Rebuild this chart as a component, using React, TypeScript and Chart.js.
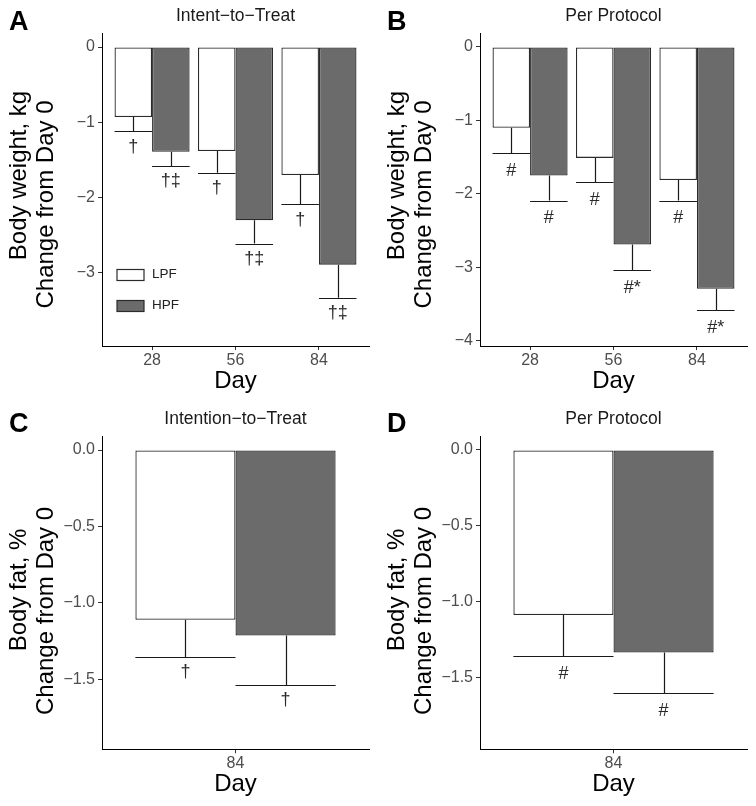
import React, { useEffect, useRef } from "react";
import { Chart, registerables } from "chart.js";

Chart.register(...registerables);

const FONT = '"Liberation Sans", Arial, Helvetica, sans-serif';
Chart.defaults.font.family = FONT;

// ---------- data ----------
const seriesNames = ["LPF", "HPF"];
const weightDays = ["28", "56", "84"];
const fatDays = ["84"];

// A: body weight, intent-to-treat
const lpfWeightITT = [-0.93, -1.38, -1.7];
const lpfWeightITTLow = [-1.12, -1.67, -2.09];
const hpfWeightITT = [-1.39, -2.3, -2.89];
const hpfWeightITTLow = [-1.58, -2.61, -3.33];
const lpfMarksWeightITT = ["†", "†", "†"];
const hpfMarksWeightITT = ["†‡", "†‡", "†‡"];

// B: body weight, per protocol
const lpfWeightPP = [-1.1, -1.51, -1.81];
const lpfWeightPPLow = [-1.45, -1.84, -2.09];
const hpfWeightPP = [-1.75, -2.69, -3.29];
const hpfWeightPPLow = [-2.09, -3.04, -3.58];
const lpfMarksWeightPP = ["#", "#", "#"];
const hpfMarksWeightPP = ["#", "#*", "#*"];

// C: body fat, intention-to-treat
const lpfFatITT = [-1.11];
const lpfFatITTLow = [-1.354];
const hpfFatITT = [-1.214];
const hpfFatITTLow = [-1.537];
const lpfMarksFatITT = ["†"];
const hpfMarksFatITT = ["†"];

// D: body fat, per protocol
const lpfFatPP = [-1.086];
const lpfFatPPLow = [-1.357];
const hpfFatPP = [-1.333];
const hpfFatPPLow = [-1.6];
const lpfMarksFatPP = ["#"];
const hpfMarksFatPP = ["#"];

// tick values
const weightTicksITT = [0, -1, -2, -3];
const weightTicksPP = [0, -1, -2, -3, -4];
const fatTicks = [0, -0.5, -1.0, -1.5];

// ---------- styles ----------
const LPF_FILL = "#ffffff";
const HPF_FILL = "#6b6b6b";
const BAR_EDGE = "#2b2b2b";
const TICK_TEXT = "#4d4d4d";
const INK = "#1a1a1a";

interface Panel {
  key: string;
  letter: string;
  title: string;
  yTitle: string[];
  yTitleShift: number[];
  cats: string[];
  lpf: number[];
  hpf: number[];
  lpfLow: number[];
  hpfLow: number[];
  lpfMarks: string[];
  hpfMarks: string[];
  yMin: number;
  yMax: number;
  yTicks: number[];
  decimals: number;
  catPct: number;
  legend: boolean;
  markGap: number;
  left: number;
  top: number;
  width: number;
  height: number;
  padTop: number;
  xAxisH: number;
  dayPad: number;
  letterGap: number;
}

const panels: Panel[] = [
  {
    key: "A", letter: "A", title: "Intent\u2212to\u2212Treat",
    yTitle: ["Body weight, kg", "Change from Day 0"], yTitleShift: [-14, 15],
    cats: weightDays, lpf: lpfWeightITT, hpf: hpfWeightITT, lpfLow: lpfWeightITTLow, hpfLow: hpfWeightITTLow,
    lpfMarks: lpfMarksWeightITT, hpfMarks: hpfMarksWeightITT,
    yMin: -3.97, yMax: 0.186, yTicks: weightTicksITT, decimals: 0, catPct: 0.9, legend: true, markGap: 15.5,
    left: 0, top: 0, width: 378, height: 395, padTop: 33, xAxisH: 49, dayPad: 1.4, letterGap: 3,
  },
  {
    key: "B", letter: "B", title: "Per Protocol",
    yTitle: ["Body weight, kg", "Change from Day 0"], yTitleShift: [-14, 15],
    cats: weightDays, lpf: lpfWeightPP, hpf: hpfWeightPP, lpfLow: lpfWeightPPLow, hpfLow: hpfWeightPPLow,
    lpfMarks: lpfMarksWeightPP, hpfMarks: hpfMarksWeightPP,
    yMin: -4.07, yMax: 0.19, yTicks: weightTicksPP, decimals: 0, catPct: 0.9, legend: false, markGap: 18,
    left: 378, top: 0, width: 378, height: 395, padTop: 33, xAxisH: 49, dayPad: 1.4, letterGap: 3,
  },
  {
    key: "C", letter: "C", title: "Intention\u2212to\u2212Treat",
    yTitle: ["Body fat, %", "Change from Day 0"], yTitleShift: [-2.7, 18.3],
    cats: fatDays, lpf: lpfFatITT, hpf: hpfFatITT, lpfLow: lpfFatITTLow, hpfLow: hpfFatITTLow,
    lpfMarks: lpfMarksFatITT, hpfMarks: hpfMarksFatITT,
    yMin: -1.958, yMax: 0.092, yTicks: fatTicks, decimals: 1, catPct: 0.75, legend: false, markGap: 15.5,
    left: 0, top: 395, width: 378, height: 411, padTop: 41, xAxisH: 56.7, dayPad: 9.4, letterGap: 4.3,
  },
  {
    key: "D", letter: "D", title: "Per Protocol",
    yTitle: ["Body fat, %", "Change from Day 0"], yTitleShift: [-2.7, 18.3],
    cats: fatDays, lpf: lpfFatPP, hpf: hpfFatPP, lpfLow: lpfFatPPLow, hpfLow: hpfFatPPLow,
    lpfMarks: lpfMarksFatPP, hpfMarks: hpfMarksFatPP,
    yMin: -1.97, yMax: 0.092, yTicks: fatTicks, decimals: 1, catPct: 0.75, legend: false, markGap: 18,
    left: 378, top: 395, width: 378, height: 411, padTop: 41, xAxisH: 56.7, dayPad: 9.4, letterGap: 4.3,
  },
];

function fmtTick(v: number, decimals: number): string {
  if (Math.abs(v) < 1e-9) return (0).toFixed(decimals);
  return (v < 0 ? "\u2212" : "") + Math.abs(v).toFixed(decimals);
}

function makeDecor(p: Panel) {
  return {
    id: "decor" + p.key,
    afterDatasetsDraw(chart: any) {
      const ctx: CanvasRenderingContext2D = chart.ctx;
      const ys = chart.scales.y;
      const lows = [p.lpfLow, p.hpfLow];
      const marks = [p.lpfMarks, p.hpfMarks];
      ctx.save();
      for (let d = 0; d < 2; d++) {
        const meta = chart.getDatasetMeta(d);
        meta.data.forEach((el: any, i: number) => {
          const { x, y, width } = el.getProps(["x", "y", "width"], true);
          const yl = ys.getPixelForValue(lows[d][i]);
          ctx.strokeStyle = INK;
          ctx.lineWidth = 1.2;
          ctx.beginPath();
          ctx.moveTo(Math.round(x) + 0.5, y);
          ctx.lineTo(Math.round(x) + 0.5, yl);
          ctx.moveTo(x - width / 2, Math.round(yl) + 0.5);
          ctx.lineTo(x + width / 2, Math.round(yl) + 0.5);
          ctx.stroke();
          ctx.fillStyle = "#2a2a2a";
          ctx.font = `18px ${FONT}`;
          ctx.textAlign = "center";
          ctx.textBaseline = "middle";
          ctx.fillText(marks[d][i], x, yl + p.markGap);
        });
      }
      ctx.restore();
    },
    afterDraw(chart: any) {
      const ctx: CanvasRenderingContext2D = chart.ctx;
      const ca = chart.chartArea;
      ctx.save();
      // panel letter
      ctx.fillStyle = "#000";
      ctx.font = `bold 27px ${FONT}`;
      ctx.textAlign = "left";
      ctx.textBaseline = "alphabetic";
      ctx.fillText(p.letter, 9, ca.top - p.letterGap);
      // panel title
      ctx.font = `17.5px ${FONT}`;
      ctx.fillStyle = INK;
      ctx.textAlign = "center";
      ctx.fillText(p.title, (ca.left + ca.right) / 2, ca.top - 12);
      // y-axis title (two lines)
      const cy = (ca.top + ca.bottom) / 2;
      const baseX = [25.5, 52.5];
      ctx.font = `24px ${FONT}`;
      ctx.fillStyle = "#000";
      p.yTitle.forEach((line, i) => {
        ctx.save();
        ctx.translate(baseX[i], cy + p.yTitleShift[i]);
        ctx.rotate(-Math.PI / 2);
        ctx.textAlign = "center";
        ctx.textBaseline = "alphabetic";
        ctx.fillText(line, 0, 0);
        ctx.restore();
      });
      // legend
      if (p.legend) {
        const rows = [ca.bottom - 72, ca.bottom - 40.5];
        chart.data.datasets.forEach((ds: any, i: number) => {
          const bx = ca.left + 15;
          const by = Math.round(rows[i] - 5.5) + 0.5;
          ctx.fillStyle = ds.backgroundColor;
          ctx.fillRect(bx, by, 27, 11);
          ctx.strokeStyle = BAR_EDGE;
          ctx.lineWidth = 1.2;
          ctx.strokeRect(bx, by, 27, 11);
          ctx.fillStyle = "#222";
          ctx.font = `13.5px ${FONT}`;
          ctx.textAlign = "left";
          ctx.textBaseline = "middle";
          ctx.fillText(ds.label, ca.left + 50, rows[i]);
        });
      }
      ctx.restore();
    },
  };
}

function ChartPanel({ p }: { p: Panel }) {
  const ref = useRef<HTMLCanvasElement>(null);
  useEffect(() => {
    const canvas = ref.current;
    if (!canvas) return;
    const tickGrid = {
      display: true,
      drawOnChartArea: false,
      drawTicks: true,
      tickLength: 4,
      color: "#333333",
      lineWidth: 1,
      offset: false,
    };
    const chart = new Chart(canvas, {
      type: "bar",
      data: {
        datasets: [
          {
            label: seriesNames[0],
            data: p.lpf.map((y, i) => ({ x: i + 1, y })),
            backgroundColor: LPF_FILL,
            borderColor: BAR_EDGE,
            borderWidth: 1.3,
            borderSkipped: false,
            categoryPercentage: p.catPct,
            barPercentage: 1,
          },
          {
            label: seriesNames[1],
            data: p.hpf.map((y, i) => ({ x: i + 1, y })),
            backgroundColor: HPF_FILL,
            borderColor: BAR_EDGE,
            borderWidth: 1.3,
            borderSkipped: false,
            categoryPercentage: p.catPct,
            barPercentage: 1,
          },
        ],
      } as any,
      options: {
        responsive: false,
        animation: false,
        devicePixelRatio: 1,
        events: [],
        layout: { padding: { top: p.padTop, right: 9, bottom: 0, left: 0 } },
        plugins: {
          legend: { display: false },
          tooltip: { enabled: false },
          title: { display: false },
        },
        scales: {
          x: {
            type: "linear",
            min: 0.4,
            max: p.cats.length + 0.6,
            offset: false,
            afterBuildTicks: (s: any) => {
              s.ticks = p.cats.map((_, i) => ({ value: i + 1 }));
            },
            afterFit: (s: any) => {
              s.height = p.xAxisH;
            },
            ticks: {
              callback: (v: any) => p.cats[Math.round(Number(v)) - 1] ?? "",
              color: TICK_TEXT,
              font: { size: 16 },
              padding: 1,
              maxRotation: 0,
              autoSkip: false,
            },
            grid: tickGrid,
            border: { display: true, color: "#000", width: 1 },
            title: {
              display: true,
              text: "Day",
              color: "#000",
              font: { size: 24, lineHeight: 1 },
              padding: { top: 0, bottom: p.dayPad },
            },
          },
          y: {
            type: "linear",
            min: p.yMin,
            max: p.yMax,
            beginAtZero: false,
            afterBuildTicks: (s: any) => {
              s.ticks = p.yTicks.map((v) => ({ value: v }));
            },
            afterFit: (s: any) => {
              s.width = 102;
            },
            ticks: {
              callback: (v: any) => fmtTick(Number(v), p.decimals),
              color: TICK_TEXT,
              font: { size: 16 },
              padding: 3,
              autoSkip: false,
            },
            grid: tickGrid,
            border: { display: true, color: "#000", width: 1 },
            title: { display: false },
          },
        },
      } as any,
      plugins: [makeDecor(p)],
    });
    return () => chart.destroy();
  }, [p]);
  return (
    <canvas
      ref={ref}
      width={p.width}
      height={p.height}
      style={{ position: "absolute", left: p.left, top: p.top, width: p.width, height: p.height, display: "block" }}
    />
  );
}

export default function App() {
  return (
    <div style={{ position: "absolute", left: 0, top: 0, width: 756, height: 806, background: "#ffffff", overflow: "hidden" }}>
      {panels.map((p) => (
        <ChartPanel key={p.key} p={p} />
      ))}
    </div>
  );
}
